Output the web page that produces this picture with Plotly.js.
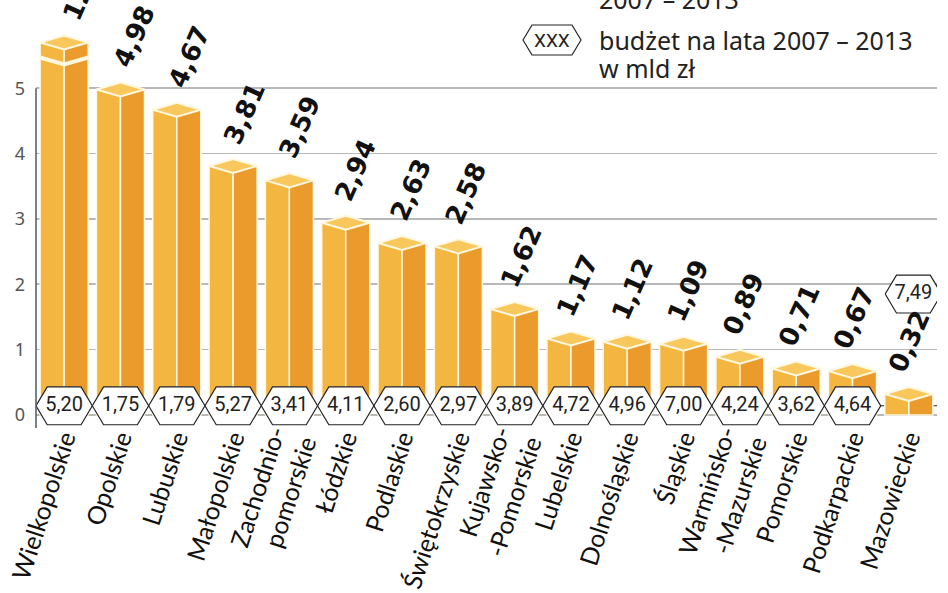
<!DOCTYPE html>
<html><head><meta charset="utf-8">
<script src="https://cdn.plot.ly/plotly-3.0.1.min.js"></script>
<style>html,body{margin:0;padding:0;background:#fff}#chart{width:948px;height:593px}</style>
</head><body><div id="chart"></div>
<script>
// ---- data ----
const regions = ["Wielkopolskie","Opolskie","Lubuskie","Małopolskie","Zachodnio-<br>pomorskie","Łódzkie","Podlaskie","Świętokrzyskie","Kujawsko-<br>-Pomorskie","Lubelskie","Dolnośląskie","Śląskie","Warmińsko-<br>-Mazurskie","Pomorskie","Podkarpackie","Mazowieckie"];
const values = [12, 4.98, 4.67, 3.81, 3.59, 2.94, 2.63, 2.58, 1.62, 1.17, 1.12, 1.09, 0.89, 0.71, 0.67, 0.32];
const valueLabels = ["12","4,98","4,67","3,81","3,59","2,94","2,63","2,58","1,62","1,17","1,12","1,09","0,89","0,71","0,67","0,32"];
const budgets = [5.20, 1.75, 1.79, 5.27, 3.41, 4.11, 2.60, 2.97, 3.89, 4.72, 4.96, 7.00, 4.24, 3.62, 4.64, 7.49];
const budgetLabels = ["5,20","1,75","1,79","5,27","3,41","4,11","2,60","2,97","3,89","4,72","4,96","7,00","4,24","3,62","4,64","7,49"];
const yTicks = [0, 1, 2, 3, 4, 5];
const yTickText = ["0", "1", "2", "3", "4", "5"];

// ---- style constants ----
const CAP = 5.7;          // drawn height of the broken (off-scale) bar
const W = 0.4265;         // half bar width (x units)
const D = 0.107;          // half height of the top rhombus (y units)
const HW = 0.5, HI = 0.2, HH = 0.29; // hexagon geometry
const HEX_Y = 0.14;       // hexagon row level
const RAISED_HEX_Y = 1.85; // hexagon raised above a short bar
const LEFT_C = '#f3b641', RIGHT_C = '#eb9b2b', TOP_C = '#f9c85d', EDGE = '#fff7e0';

const idx = regions.map((_, i) => i);
const shown = values.map(v => Math.min(v, CAP));

// top rhombus faces
const tx = [], ty = [];
idx.forEach(i => {
  const v = shown[i];
  tx.push(i - W, i, i + W, i, i - W, null);
  ty.push(v, v + D, v, v - D, v, null);
});
// break marks
const bx = [], by = [];
idx.forEach(i => {
  if (values[i] > CAP) {
    const b = CAP - 0.23;
    bx.push(i - W, i, i + W, null);
    by.push(b, b - D, b, null);
  }
});
// hexagons
const hexC = idx.map(i => (i === idx.length - 1 ? {x: i + 0.08, y: RAISED_HEX_Y} : {x: i, y: HEX_Y}));
const hx = [], hy = [];
hexC.forEach(c => {
  hx.push(c.x - HW, c.x - HW + HI, c.x + HW - HI, c.x + HW, c.x + HW - HI, c.x - HW + HI, c.x - HW, null);
  hy.push(c.y, c.y + HH, c.y + HH, c.y, c.y - HH, c.y - HH, c.y, null);
});

const traces = [
  {type: 'bar', x: idx, y: shown, width: W, offset: -W, marker: {color: LEFT_C, line: {color: EDGE, width: 1.5}}, hoverinfo: 'skip'},
  {type: 'bar', x: idx, y: shown, width: W, offset: 0, marker: {color: RIGHT_C, line: {color: EDGE, width: 1.5}}, hoverinfo: 'skip'},
  {type: 'scatter', mode: 'lines', x: tx, y: ty, fill: 'toself', fillcolor: TOP_C, line: {color: EDGE, width: 2}, hoverinfo: 'skip'},
  {type: 'scatter', mode: 'lines', x: bx, y: by, line: {color: EDGE, width: 4}, hoverinfo: 'skip'},
  {type: 'scatter', mode: 'lines', x: hx, y: hy, fill: 'toself', fillcolor: '#ffffff', line: {color: '#222', width: 1.2}, hoverinfo: 'skip'},
  {type: 'scatter', mode: 'text', x: hexC.map(c => c.x), y: hexC.map(c => c.y), text: budgetLabels,
   textfont: {family: 'Roboto', size: 20, color: '#222'}, textposition: 'middle center', hoverinfo: 'skip', cliponaxis: false}
];

const annotations = idx.map(i => ({
  x: i, y: shown[i] + D, xref: 'x', yref: 'y', text: valueLabels[i], showarrow: false,
  textangle: -66, xanchor: 'center', yanchor: 'bottom', xshift: 14 - 0.9 * i, yshift: 8,
  font: {family: 'DejaVu Sans', size: 26, color: '#111', weight: 700}
}));
const PH = 428, PL = 36, PW = 901;
const LEG_X = (597 - PL) / PW;
annotations.push({
  xref: 'paper', yref: 'paper', x: LEG_X, y: 1 + 1 / PH, xanchor: 'left', yanchor: 'middle', align: 'left',
  text: '2007 – 2013', showarrow: false, font: {family: 'Noto Sans', size: 25, color: '#222'}
});
annotations.push({
  xref: 'paper', yref: 'paper', x: LEG_X, y: 1 - 40 / PH, xanchor: 'left', yanchor: 'middle', align: 'left',
  text: 'budżet na lata 2007 – 2013', showarrow: false, font: {family: 'Noto Sans', size: 25, color: '#222'}
});
annotations.push({
  xref: 'paper', yref: 'paper', x: LEG_X, y: 1 - 68 / PH, xanchor: 'left', yanchor: 'middle', align: 'left',
  text: 'w mld zł', showarrow: false, font: {family: 'Noto Sans', size: 25, color: '#222'}
});
annotations.push({
  xref: 'paper', yref: 'paper', x: (552 - PL) / PW, y: 1 - 40 / PH, xanchor: 'center', yanchor: 'middle',
  text: 'XXX', showarrow: false, font: {family: 'Roboto', size: 19, color: '#222'}
});

const shapes = [
  {type: 'line', xref: 'x', yref: 'y', x0: -0.5, x1: 15.5, y0: HEX_Y, y1: HEX_Y, line: {color: '#222', width: 1}, layer: 'below'},
  {type: 'line', xref: 'paper', yref: 'y', x0: 0, x1: 0, y0: -0.2, y1: 5, line: {color: '#4d5966', width: 1.5}},
  {type: 'path', xref: 'paper', yref: 'paper', xsizemode: 'pixel', ysizemode: 'pixel',
   xanchor: (552 - PL) / PW, yanchor: 1 - 40 / PH,
   path: 'M -29,0 L -20,15 L 20,15 L 29,0 L 20,-15 L -20,-15 Z', line: {color: '#222', width: 1.2}, fillcolor: '#fff'}
];

const layout = {
  width: 948, height: 593,
  margin: {l: PL, r: 948 - PL - PW, t: 0, b: 593 - PH, pad: 0},
  paper_bgcolor: '#fff', plot_bgcolor: '#fff',
  showlegend: false, barmode: 'overlay',
  xaxis: {range: [-0.5, 15.5], tickvals: idx, ticktext: regions, tickangle: -72, showgrid: false, zeroline: false,
          showline: false, ticks: '', ticklabelstandoff: -10, ticklabeloverflow: 'allow',
          tickfont: {family: 'Lato', size: 25, color: '#111'}, fixedrange: true},
  yaxis: {range: [-0.2, 6.35], tickvals: yTicks, ticktext: yTickText, showgrid: true, gridcolor: '#b8b8b8', gridwidth: 1.5,
          zeroline: false, showline: false, ticks: '', ticklabelstandoff: 10,
          tickfont: {family: 'Noto Sans', size: 18, color: '#555'}, fixedrange: true},
  annotations: annotations, shapes: shapes
};
Plotly.newPlot('chart', traces, layout, {displayModeBar: false, staticPlot: true});
</script></body></html>
